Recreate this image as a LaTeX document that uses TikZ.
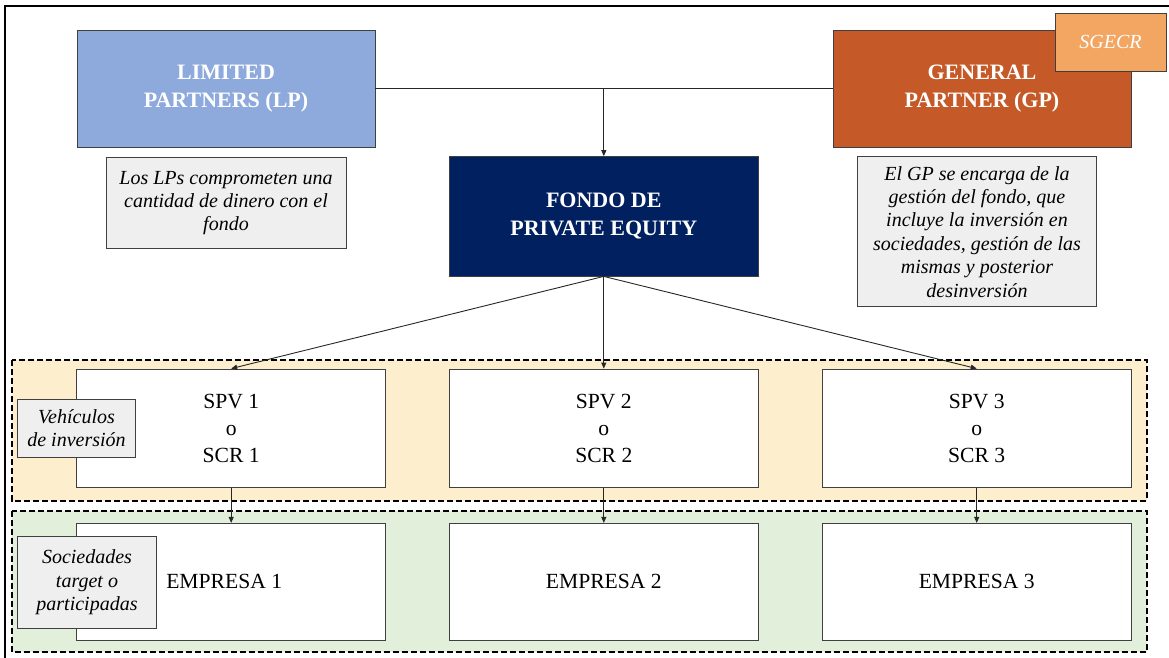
\documentclass[tikz,border=0pt]{standalone}
\usepackage{fontspec}
\setmainfont{Liberation Serif}
\usetikzlibrary{arrows.meta}
\definecolor{lpblue}{RGB}{142,169,219}
\definecolor{gporange}{RGB}{197,90,40}
\definecolor{sgecr}{RGB}{243,165,98}
\definecolor{navy}{RGB}{0,32,96}
\definecolor{notegray}{RGB}{239,239,239}
\definecolor{cream}{RGB}{253,238,206}
\definecolor{palegreen}{RGB}{226,239,218}
\definecolor{edge}{RGB}{64,64,64}
\tikzset{
  colbox/.style={draw=edge, line width=0.9pt, text=white, align=center, inner sep=0pt,
     font=\fontsize{22}{28}\selectfont\bfseries},
  notebox/.style={draw=edge, line width=0.9pt, fill=notegray, align=center, inner sep=0pt,
     font=\fontsize{20}{23.4}\selectfont\itshape},
  whitebox/.style={draw=edge, line width=0.9pt, fill=white, align=center, inner sep=0pt,
     minimum width=309pt, font=\fontsize{21.6}{27}\selectfont},
  band/.style={draw=black, line width=1.6pt, dash pattern=on 6pt off 3pt},
  conn/.style={draw=black!85, line width=0.9pt},
  arr/.style={conn, -{Triangle[length=6pt,width=5pt]}}
}
\begin{document}
\begin{tikzpicture}[x=1pt,y=-1pt]
\useasboundingbox (0,0) rectangle (1169,658);
\clip (0,0) rectangle (1169,658);
% outer frame
\draw[line width=2pt, black] (5,6) rectangle (1185,670);
% bands
\path[band, fill=cream] (11.7,360) rectangle (1146.7,500.7);
\path[band, fill=palegreen] (11.7,510.7) rectangle (1146.7,651.7);
% top row
\node[colbox, fill=lpblue, minimum width=298pt, minimum height=117pt] (lp) at (226,88.5) {LIMITED\\PARTNERS (LP)};
\node[colbox, fill=gporange, minimum width=298pt, minimum height=117pt] (gp) at (982,88.5) {GENERAL\\PARTNER (GP)};
\node[draw=edge, line width=0.9pt, fill=sgecr, text=white, inner sep=0pt, minimum width=111pt, minimum height=58pt,
   font=\fontsize{20}{24}\selectfont\itshape] (sg) at (1110.5,42) {SGECR};
\node[notebox, minimum width=240pt, minimum height=91pt] (lpnote) at (226,203) {Los LPs comprometen una\\cantidad de dinero con el\\fondo};
\node[notebox, minimum width=239.4pt, minimum height=150pt] (gpnote) at (977,231.7) {El GP se encarga de la\\gestión del fondo, que\\incluye la inversión en\\sociedades, gestión de las\\mismas y posterior\\desinversión};
\node[colbox, fill=navy, minimum width=309pt, minimum height=119.3pt] (fondo) at (603.8,216.3) {FONDO DE\\PRIVATE EQUITY};
% SPV row
\node[whitebox, minimum height=118.3pt] (spv1) at (231.2,428.2) {SPV 1\\o\\SCR 1};
\node[whitebox, minimum height=118.3pt] (spv2) at (603.8,428.2) {SPV 2\\o\\SCR 2};
\node[whitebox, minimum height=118.3pt] (spv3) at (976.7,428.2) {SPV 3\\o\\SCR 3};
% Empresa row
\node[whitebox, minimum height=116.7pt] (emp1) at (231.2,581.7) {\hspace*{-14pt}EMPRESA 1};
\node[whitebox, minimum height=116.7pt] (emp2) at (603.8,581.7) {EMPRESA 2};
\node[whitebox, minimum height=116.7pt] (emp3) at (976.7,581.7) {EMPRESA 3};
% labels
\node[notebox, minimum width=118.4pt, minimum height=58.3pt] (veh) at (76.5,428.2) {Vehículos\\de inversión};
\node[notebox, minimum width=139.4pt, minimum height=91.6pt] (soc) at (87,582.5) {Sociedades\\target o\\participadas};
% connectors
\coordinate (j) at (fondo.north |- lp.east);
\draw[conn] (lp.east) -- (gp.west);
\draw[arr] (j) -- (fondo.north);
\draw[arr] (fondo.south) -- (spv1.north);
\draw[arr] (fondo.south) -- (spv2.north);
\draw[arr] (fondo.south) -- (spv3.north);
\draw[arr] (spv1.south) -- (emp1.north);
\draw[arr] (spv2.south) -- (emp2.north);
\draw[arr] (spv3.south) -- (emp3.north);
\end{tikzpicture}
\end{document}
